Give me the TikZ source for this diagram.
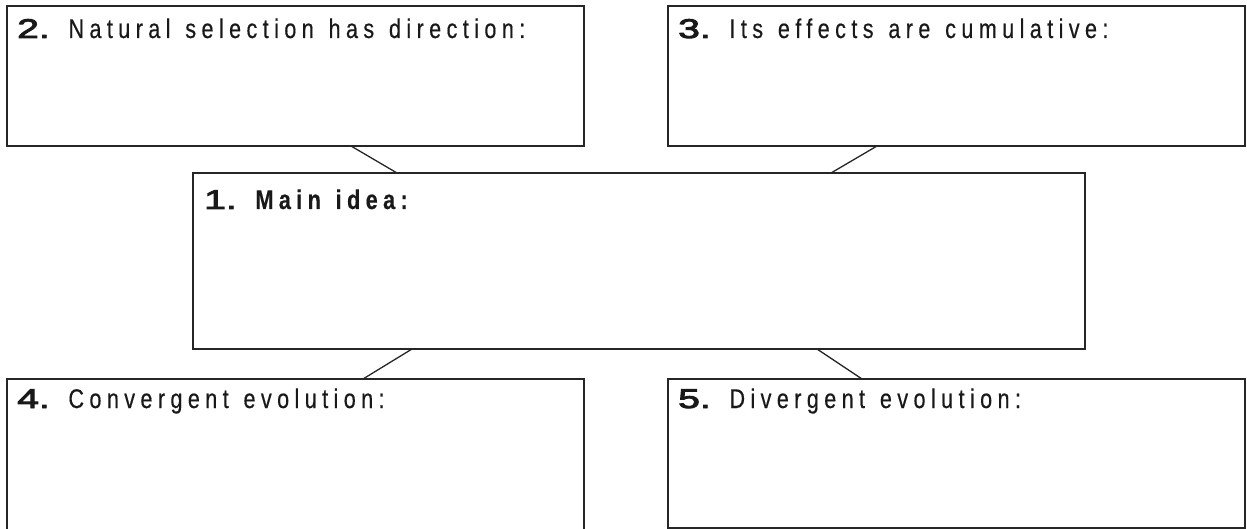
\documentclass[tikz,border=0pt]{standalone}
\usepackage{fontspec}
\setmainfont{Liberation Sans}[FakeStretch=0.8, LetterSpace=20, WordSpace=1.3, FakeBold=0.4]
\newfontfamily\numfont{Liberation Sans}[FakeStretch=1.45, FakeBold=3.5, BoldFont=*]
\usetikzlibrary{calc}
\tikzset{
  box/.style={draw=black!85, line width=1.3pt, inner sep=0pt, outer sep=0pt, rectangle},
  openbox/.style={draw=none, inner sep=0pt, outer sep=0pt, rectangle},
  lbl/.style={anchor=base west, inner sep=0pt, font=\fontsize{27}{31}\selectfont, text=black!90},
  link/.style={draw=black!85, line width=1.3pt},
}
\newcommand{\numb}[1]{{\numfont\bfseries #1}}
\begin{document}
\begin{tikzpicture}[x=1pt,y=-1pt]
\useasboundingbox (0,0) rectangle (1247,529);
\node[box, minimum width=577pt, minimum height=140pt] (tl) at (295.5,76) {};
\node[box, minimum width=577pt, minimum height=140pt] (tr) at (956.5,76) {};
\node[box, minimum width=892pt, minimum height=176pt] (mid) at (639,261) {};
\node[openbox, minimum width=577pt, minimum height=150pt] (bl) at (295.5,454) {};
\draw[link] (bl.south west) -- (bl.north west) -- (bl.north east) -- (bl.south east);
\node[box, minimum width=577pt, minimum height=149pt] (br) at (956.5,453.5) {};
% texts
\node[lbl] (t2) at ($(tl.north west)+(10,32)$) {\numb{2.} Natural selection has direction:};
\node[lbl] (t3) at ($(tr.north west)+(10,32)$) {\numb{3.} Its effects are cumulative:};
\node[lbl] (t1) at ($(mid.north west)+(11,36)$) {\numb{1.} \bfseries Main idea:};
\node[lbl] (t4) at ($(bl.north west)+(10,29)$) {\numb{4.} Convergent evolution:};
\node[lbl] (t5) at ($(br.north west)+(10,29)$) {\numb{5.} Divergent evolution:};
% connectors
\coordinate (a1) at ($(tl.south west)+(344,0)$);
\coordinate (a2) at ($(mid.north west)+(204,0)$);
\coordinate (b1) at ($(tr.south west)+(209,0)$);
\coordinate (b2) at ($(mid.north west)+(638,0)$);
\coordinate (c1) at ($(mid.south west)+(219,0)$);
\coordinate (c2) at ($(bl.north west)+(356,0)$);
\coordinate (d1) at ($(mid.south west)+(624,0)$);
\coordinate (d2) at ($(br.north west)+(194,0)$);
\draw[link] (a1) -- (a2);
\draw[link] (b1) -- (b2);
\draw[link] (c1) -- (c2);
\draw[link] (d1) -- (d2);
\end{tikzpicture}
\end{document}
